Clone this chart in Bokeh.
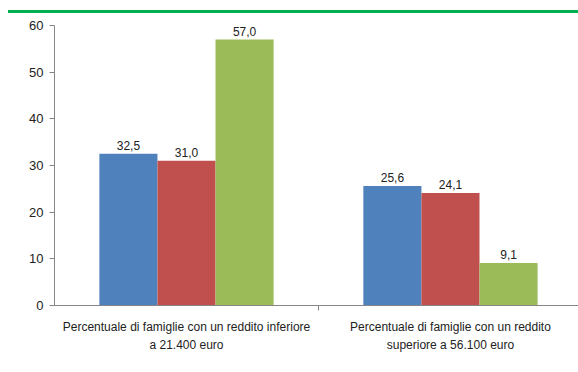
from bokeh.plotting import figure
from bokeh.models import (ColumnDataSource, Range1d, FixedTicker, LabelSet, Legend,
                          LegendItem, Div)
from bokeh.layouts import column
from bokeh.core.properties import value
from bokeh.embed import file_html
from bokeh.resources import INLINE

# Data
categories = ["Percentuale di famiglie con un reddito inferiore\na 21.400 euro",
              "Percentuale di famiglie con un reddito\nsuperiore a 56.100 euro"]
series = ["Nord", "Centro", "Sud e isole"]
nord = [32.5, 25.6]
centro = [31.0, 24.1]
sud = [57.0, 9.1]
colors = ["#4F81BD", "#C0504D", "#9BBB59"]
y_ticks = [0, 10, 20, 30, 40, 50, 60]

FONT = "Liberation Sans"
TXT = "#222222"
BAR_W = 0.22

p = figure(frame_width=524, frame_height=280, output_backend="svg",
           toolbar_location=None,
           x_range=Range1d(0, 1.985), y_range=Range1d(0, 60),
           min_border_left=54, min_border_right=0, min_border_top=12,
           min_border_bottom=0)
p.outline_line_color = None
p.xgrid.visible = False
p.ygrid.visible = False
p.background_fill_color = "white"

centers = [i + 0.5 for i in range(len(categories))]
items = []
for k, (name, vals, col) in enumerate(zip(series, [nord, centro, sud], colors)):
    xs = [c + (k - 1) * BAR_W for c in centers]
    src = ColumnDataSource(dict(x=xs, top=vals,
                                txt=[f"{v:.1f}".replace(".", ",") for v in vals]))
    r = p.vbar(x="x", top="top", width=BAR_W, bottom=0, color=col, line_color=None,
               source=src)
    items.append(LegendItem(label=name, renderers=[r]))
    p.add_layout(LabelSet(x="x", y="top", text="txt", source=src, y_offset=4,
                          text_align="center", text_baseline="bottom",
                          text_font=value(FONT), text_font_size=value("12px"),
                          text_color=TXT))

# Y axis
ya = p.yaxis[0]
ya.ticker = FixedTicker(ticks=y_ticks)
ya.axis_line_color = "#868686"
ya.major_tick_line_color = "#868686"
ya.major_tick_out = 5
ya.major_tick_in = 0
ya.minor_tick_line_color = None
ya.major_label_text_font = FONT
ya.major_label_text_font_size = "13px"
ya.major_label_text_color = TXT
ya.major_label_standoff = 6

# X axis: two-line category labels, tick mark between categories
xa = p.xaxis[0]
xa.ticker = FixedTicker(ticks=centers, minor_ticks=[1.0])
xa.major_label_overrides = {c: lab for c, lab in zip(centers, categories)}
xa.axis_line_color = "#868686"
xa.major_tick_line_color = None
xa.minor_tick_line_color = "#868686"
xa.minor_tick_out = 5
xa.minor_tick_in = 0
xa.major_label_text_font = FONT
xa.major_label_text_font_size = "12px"
xa.major_label_text_line_height = 1.3
xa.major_label_text_color = TXT
xa.major_label_standoff = 8

legend = Legend(items=items, orientation="horizontal", location="center",
                label_text_font=FONT, label_text_font_size="12px",
                label_text_color=TXT, glyph_width=8, glyph_height=8,
                label_height=12, spacing=12, label_standoff=3,
                border_line_color=None, padding=0, margin=1)
p.add_layout(legend, "below")

# Green rule across the top of the page
rule = Div(text="", width=570, height=3,
           styles={"background-color": "#00B050"}, margin=(10, 0, 0, 8))

layout = column(rule, p, spacing=0)
open("out.html", "w").write(file_html(layout, INLINE))
